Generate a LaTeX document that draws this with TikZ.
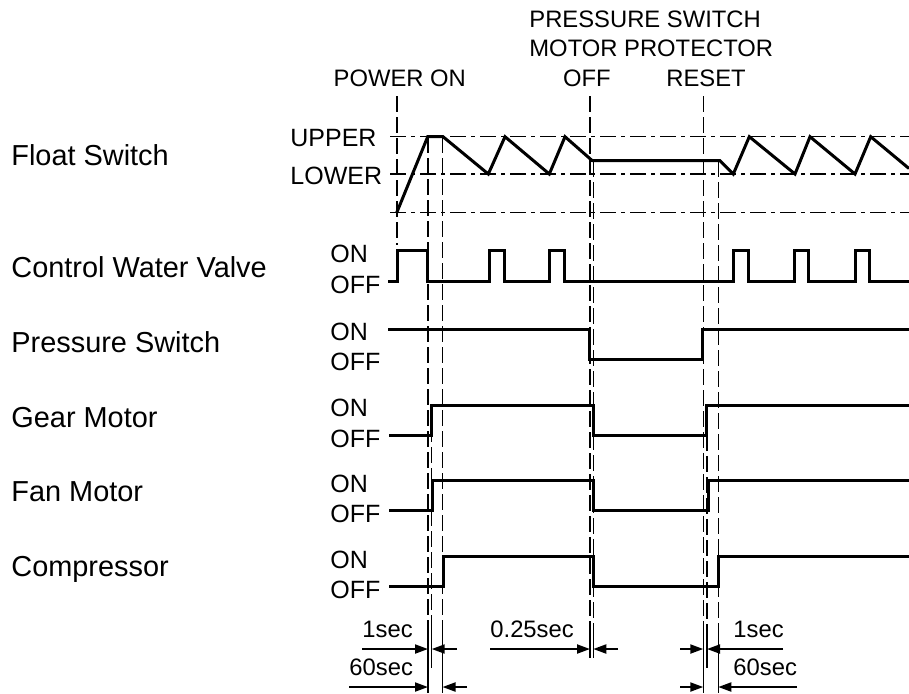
\documentclass[tikz,border=0pt]{standalone}
\usepackage{fontspec}
\setmainfont{Liberation Sans}
\usetikzlibrary{arrows.meta}

\begin{document}
\begin{tikzpicture}[x=0.5pt, y=-0.5pt,
    sig/.style={line width=1.5pt},
    guide/.style={line width=0.75pt, dash pattern=on 8pt off 2.5pt},
    ext/.style={line width=0.75pt},
    level/.style={line width=0.75pt, dash pattern=on 8pt off 2.5pt on 2pt off 2.5pt},
    dim/.style={line width=1pt, -{Triangle[length=6.5pt, width=4.5pt]}},
    big/.style={font=\fontsize{14.45}{17}\selectfont, anchor=base west, inner sep=0pt},
    state/.style={font=\fontsize{12.5}{15}\selectfont, anchor=base west, inner sep=0pt},
    small/.style={font=\fontsize{11.9}{14}\selectfont, anchor=base west, inner sep=0pt}]
    \useasboundingbox (0,0) rectangle (909,693);

    % signal names
    \node[big] (float) at (11,165.7) {Float Switch};
    \node[big] (valve) at (11,277.3) {Control Water Valve};
    \node[big] (press) at (11,352) {Pressure Switch};
    \node[big] (gear) at (11,427) {Gear Motor};
    \node[big] (fan) at (11,501.5) {Fan Motor};
    \node[big] (comp) at (11,576) {Compressor};

    % events
    \node[small] (pon) at (333.3,86) {POWER ON};
    \node[small] (pswitch) at (529,27) {PRESSURE SWITCH};
    \node[small] (mprot) at (529,56) {MOTOR PROTECTOR};
    \node[small] (poff) at (562.7,86) {OFF};
    \node[small] (reset) at (666,86) {RESET};

    % states
    \node[state] (upper) at (290,146.7) {UPPER};
    \node[state] (lower) at (290,184) {LOWER};
    \foreach \n/\on/\off in {valve/250.7/281.7, press/329/359, gear/405/435.5,
                             fan/480.5/510.5, comp/556.7/586.5} {
        \node[state] (\n-on) at (330,\on+11.5) {ON};
        \node[state] (\n-off) at (330,\off+11.5) {OFF};
    }

    % water levels
    \draw[level] (390,136.7) -- (909,136.7);
    \draw[level] (390,174) -- (909,174);
    \draw[level] (390,212.7) -- (909,212.7);

    % event lines
    \draw[guide] (397,96) -- (397,245);
    \draw[guide] (428,137) -- (428,628);
    \draw[guide] (431.7,405) -- (431.7,628);
    \draw[guide] (442.5,137) -- (442.5,628);
    \draw[guide] (590,96) -- (590,628);
    \draw[guide] (593.3,161) -- (593.3,628);
    \draw[guide] (703.3,96) -- (703.3,628);
    \draw[guide] (707,435) -- (707,628);
    \draw[guide] (718.3,161) -- (718.3,628);
    \draw[ext] (428,628) -- (428,693);
    \draw[ext] (431.7,628) -- (431.7,668);
    \draw[ext] (442.5,628) -- (442.5,693);
    \draw[ext] (590,628) -- (590,658);
    \draw[ext] (593.3,628) -- (593.3,658);
    \draw[ext] (703.3,628) -- (703.3,693);
    \draw[ext] (707,628) -- (707,668);
    \draw[ext] (718.3,628) -- (718.3,693);

    % signals
    \draw[sig] (396.7,212.7) -- (427.7,136.7) -- (443,136.7) -- (488.3,174) -- (505,136.7)
        -- (549.3,174) -- (565,136.7) -- (592.3,160.7) -- (720,160.7) -- (733.3,174)
        -- (749.3,136.7) -- (795,174) -- (810,136.7) -- (855,174) -- (870.7,136.7) -- (909,168.5);
    \draw[sig] (388.3,281.7)
        foreach \a/\b in {397/427.7, 489.3/504.3, 549.3/564.3, 733.3/748.3, 794.3/808.3, 855/869.3}
        { -- (\a,281.7) -- (\a,250.7) -- (\b,250.7) -- (\b,281.7) } -- (909,281.7);
    \draw[sig] (388.3,329) -- (589.3,329) -- (589.3,359) -- (702.3,359) -- (702.3,329) -- (909,329);
    \draw[sig] (389,435.5) -- (431.7,435.5) -- (431.7,405) -- (593.3,405) -- (593.3,435.5)
        -- (706.7,435.5) -- (706.7,405) -- (909,405);
    \draw[sig] (389,510.5) -- (432.3,510.5) -- (432.3,480.5) -- (593.3,480.5) -- (593.3,510.5)
        -- (708,510.5) -- (708,480.5) -- (909,480.5);
    \draw[sig] (389,586.5) -- (443.3,586.5) -- (443.3,556.7) -- (593.3,556.7) -- (593.3,586.5)
        -- (718.3,586.5) -- (718.3,556.7) -- (909,556.7);

    % delays
    \node[small] (t1) at (362,637) {1sec};
    \node[small] (t2) at (349,675) {60sec};
    \node[small] (t3) at (490,637) {0.25sec};
    \node[small] (t4) at (733,637) {1sec};
    \node[small] (t5) at (733,675) {60sec};
    \draw[dim] (362,649) -- (428,649);
    \draw[dim] (457,649) -- (431.7,649);
    \draw[dim] (349,687) -- (428,687);
    \draw[dim] (467,687) -- (442.5,687);
    \draw[dim] (490,649) -- (590,649);
    \draw[dim] (618,649) -- (593.3,649);
    \draw[dim] (680,649) -- (703.3,649);
    \draw[dim] (783,649) -- (707,649);
    \draw[dim] (680,687) -- (703.3,687);
    \draw[dim] (797,687) -- (718.3,687);
\end{tikzpicture}
\end{document}
